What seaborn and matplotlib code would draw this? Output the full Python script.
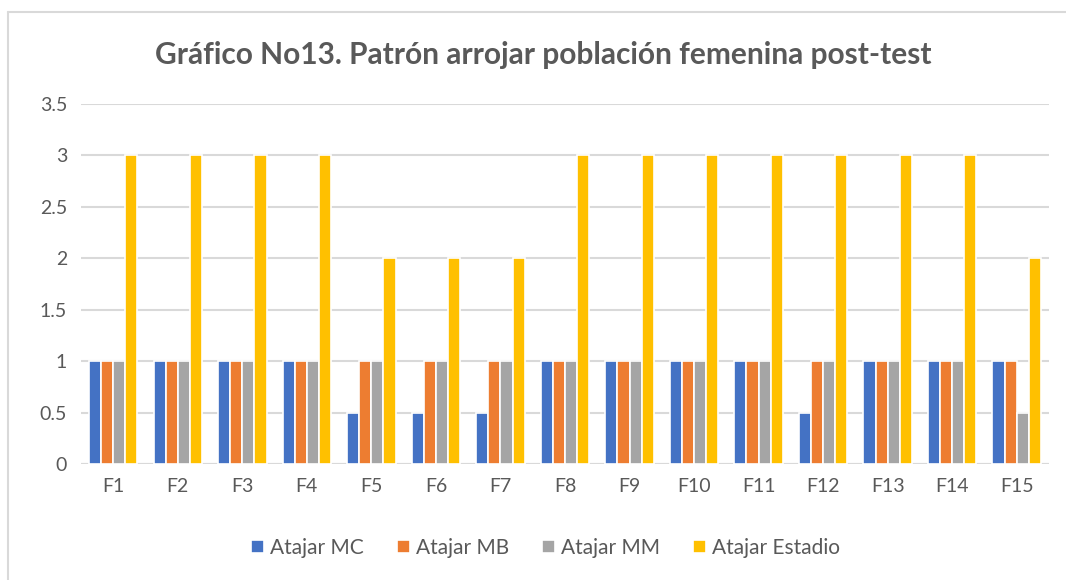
import matplotlib
matplotlib.use("Agg")
import matplotlib.pyplot as plt
import seaborn as sns
import pandas as pd
from matplotlib.lines import Line2D

# Chart data
categories = ["F%d" % i for i in range(1, 16)]
series_names = ["Atajar MC", "Atajar MB", "Atajar MM", "Atajar Estadio"]
atajar_mc = [1, 1, 1, 1, 0.5, 0.5, 0.5, 1, 1, 1, 1, 0.5, 1, 1, 1]
atajar_mb = [1, 1, 1, 1, 1, 1, 1, 1, 1, 1, 1, 1, 1, 1, 1]
atajar_mm = [1, 1, 1, 1, 1, 1, 1, 1, 1, 1, 1, 1, 1, 1, 0.5]
atajar_estadio = [3, 3, 3, 3, 2, 2, 2, 3, 3, 3, 3, 3, 3, 3, 2]
y_ticks = [0, 0.5, 1, 1.5, 2, 2.5, 3, 3.5]
colors = ["#4472C4", "#ED7D31", "#A5A5A5", "#FFC000"]

title = "Gráfico No13. Patrón arrojar población femenina post-test"

# Long-form table for seaborn
rows = []
for name, vals in zip(series_names, [atajar_mc, atajar_mb, atajar_mm, atajar_estadio]):
    for cat, v in zip(categories, vals):
        rows.append({"cat": cat, "serie": name, "valor": v})
df = pd.DataFrame(rows)

sns.set_style("white")
plt.rcParams["font.family"] = ["Lato", "DejaVu Sans"]
text_color = "#595959"
grid_color = "#D9D9D9"

fig = plt.figure(figsize=(10.66, 5.8), dpi=100)
ax = fig.add_axes([0.076, 0.2, 0.908, 0.6207])

sns.barplot(data=df, x="cat", y="valor", hue="serie", order=categories,
            hue_order=series_names, palette=colors, saturation=1, width=0.75,
            edgecolor="white", linewidth=1.2, ax=ax, legend=True)

ax.set_ylim(0, 3.5)
ax.set_yticks(y_ticks)
ax.set_yticklabels(["%g" % t for t in y_ticks])
ax.set_xlim(-0.5, len(categories) - 0.5)
ax.yaxis.grid(True, color=grid_color, linewidth=1.5)
ax.set_axisbelow(True)
for s in ax.spines.values():
    s.set_visible(False)
ax.axhline(0, color=grid_color, linewidth=1.5, zorder=0)
ax.tick_params(axis="both", length=0, labelsize=14, colors=text_color, pad=10)
ax.set_xlabel("")
ax.set_ylabel("")

fig.text(0.51, 1 - 55 / 580, title, ha="center", va="center",
         fontsize=21.5, fontweight="bold", color=text_color)

handles, labels = ax.get_legend_handles_labels()
ax.legend_.remove()
leg = fig.legend(handles, labels, loc="center", bbox_to_anchor=(0.512, 1 - 548 / 580),
                 ncol=4, frameon=False, fontsize=15, handlelength=0.6,
                 handleheight=0.6, handletextpad=0.3, columnspacing=1.6)
for t in leg.get_texts():
    t.set_color(text_color)

# chart frame (top and left edges only visible in the crop)
fx = 8 / 1066
fy = 1 - 12 / 580
fig.add_artist(Line2D([fx, 1], [fy, fy], transform=fig.transFigure,
                      color=grid_color, linewidth=1.5))
fig.add_artist(Line2D([fx, fx], [0, fy], transform=fig.transFigure,
                      color=grid_color, linewidth=1.5))

fig.savefig("out.png", dpi=100)
